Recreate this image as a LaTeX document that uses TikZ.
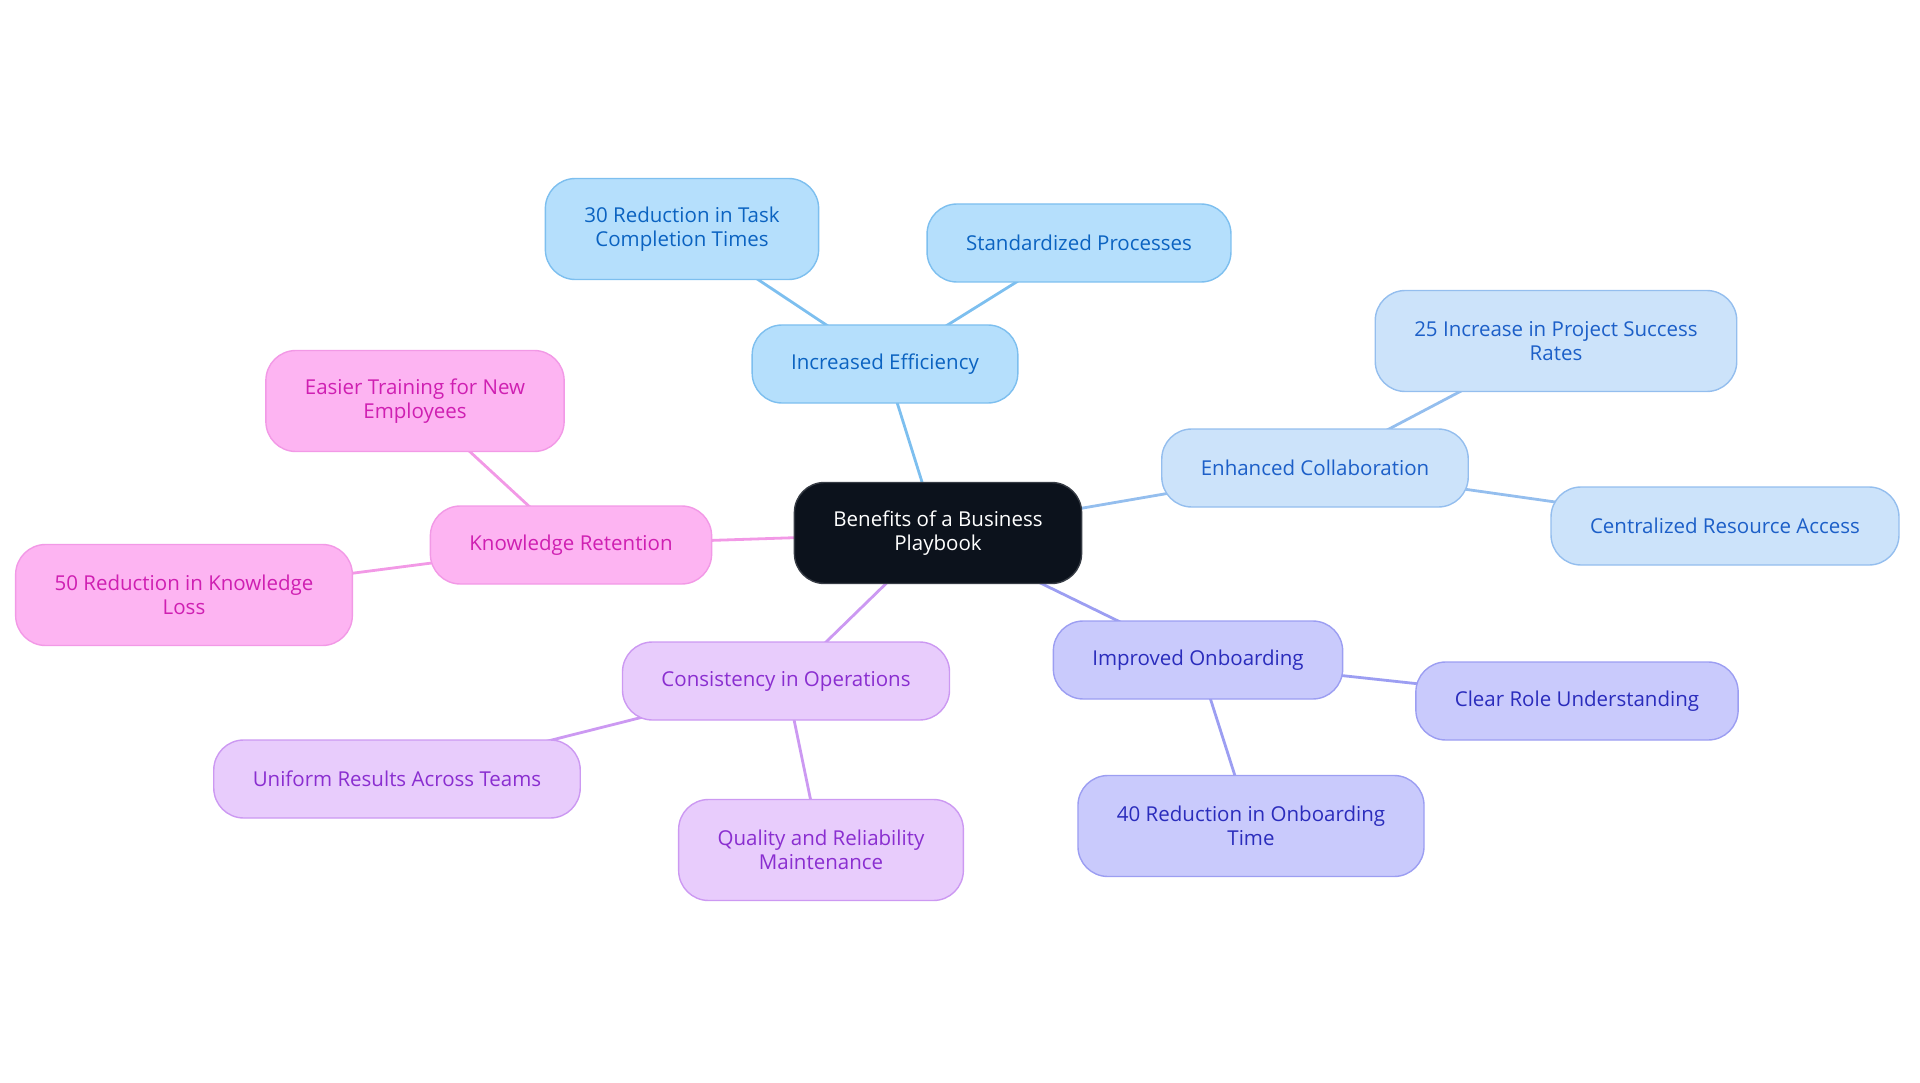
\documentclass[tikz,border=0pt]{standalone}
\usepackage{fontspec}
\setmainfont{Open Sans}
\usetikzlibrary{backgrounds}

\definecolor{rootfill}{HTML}{0C121C}
\definecolor{rootdraw}{HTML}{363B44}
\definecolor{efffill}{HTML}{B5DFFC}
\definecolor{effdraw}{HTML}{7DBFEF}
\definecolor{efftext}{HTML}{0B63C1}
\definecolor{colfill}{HTML}{CCE3FA}
\definecolor{coldraw}{HTML}{94BEEE}
\definecolor{coltext}{HTML}{1C5FC8}
\definecolor{onbfill}{HTML}{C9CAFC}
\definecolor{onbdraw}{HTML}{9C9EF2}
\definecolor{onbtext}{HTML}{2A2CBC}
\definecolor{confill}{HTML}{E8CCFC}
\definecolor{condraw}{HTML}{CC99F2}
\definecolor{context}{HTML}{8A2ED0}
\definecolor{knowfill}{HTML}{FDB4F2}
\definecolor{knowdraw}{HTML}{F299E6}
\definecolor{knowtext}{HTML}{CF1FB2}

\begin{document}
\begin{tikzpicture}[
	x=1pt, y=-1pt,
	font=\fontsize{20.5}{23.5}\selectfont,
	box/.style={draw, rounded corners=30pt, align=center, minimum height=78pt, inner xsep=39pt, inner ysep=4pt, line width=1.4pt},
	tall/.style={minimum height=101pt},
	rootbox/.style={box, fill=rootfill, draw=rootdraw, text=white, tall},
	effbox/.style={box, fill=efffill, draw=effdraw, text=efftext},
	colbox/.style={box, fill=colfill, draw=coldraw, text=coltext},
	onbbox/.style={box, fill=onbfill, draw=onbdraw, text=onbtext},
	conbox/.style={box, fill=confill, draw=condraw, text=context},
	knowbox/.style={box, fill=knowfill, draw=knowdraw, text=knowtext},
	link/.style={line width=2.8pt}
]
\useasboundingbox (0,0) rectangle (1920,1083);

% Nodes
\node[rootbox] (root) at (938,533) {Benefits of a Business\\Playbook};

\node[effbox] (eff) at (885,364) {Increased Efficiency};
\node[effbox, tall] (task) at (682,229) {30 Reduction in Task\\Completion Times};
\node[effbox] (std) at (1079,243) {Standardized Processes};

\node[colbox] (col) at (1315,468) {Enhanced Collaboration};
\node[colbox, tall] (proj) at (1556,341) {25 Increase in Project Success\\Rates};
\node[colbox] (res) at (1725,526) {Centralized Resource Access};

\node[onbbox] (onb) at (1198,660) {Improved Onboarding};
\node[onbbox] (role) at (1577,701) {Clear Role Understanding};
\node[onbbox, tall] (onbtime) at (1251,826) {40 Reduction in Onboarding\\Time};

\node[conbox] (con) at (786,681) {Consistency in Operations};
\node[conbox] (uni) at (397,779) {Uniform Results Across Teams};
\node[conbox, tall] (qual) at (821,850) {Quality and Reliability\\Maintenance};

\node[knowbox] (know) at (571,545) {Knowledge Retention};
\node[knowbox, tall] (train) at (415,401) {Easier Training for New\\Employees};
\node[knowbox, tall] (loss) at (184,595) {50 Reduction in Knowledge\\Loss};

% Edges
\begin{scope}[on background layer]
\draw[link, effdraw] (root.center) -- (eff.center);
\draw[link, effdraw] (eff.center) -- (task.center);
\draw[link, effdraw] (eff.center) -- (std.center);
\draw[link, coldraw] (root.center) -- (col.center);
\draw[link, coldraw] (col.center) -- (proj.center);
\draw[link, coldraw] (col.center) -- (res.center);
\draw[link, onbdraw] (root.center) -- (onb.center);
\draw[link, onbdraw] (onb.center) -- (role.center);
\draw[link, onbdraw] (onb.center) -- (onbtime.center);
\draw[link, condraw] (root.center) -- (con.center);
\draw[link, condraw] (con.center) -- (uni.center);
\draw[link, condraw] (con.center) -- (qual.center);
\draw[link, knowdraw] (root.center) -- (know.center);
\draw[link, knowdraw] (know.center) -- (train.center);
\draw[link, knowdraw] (know.center) -- (loss.center);
\end{scope}

\end{tikzpicture}
\end{document}
